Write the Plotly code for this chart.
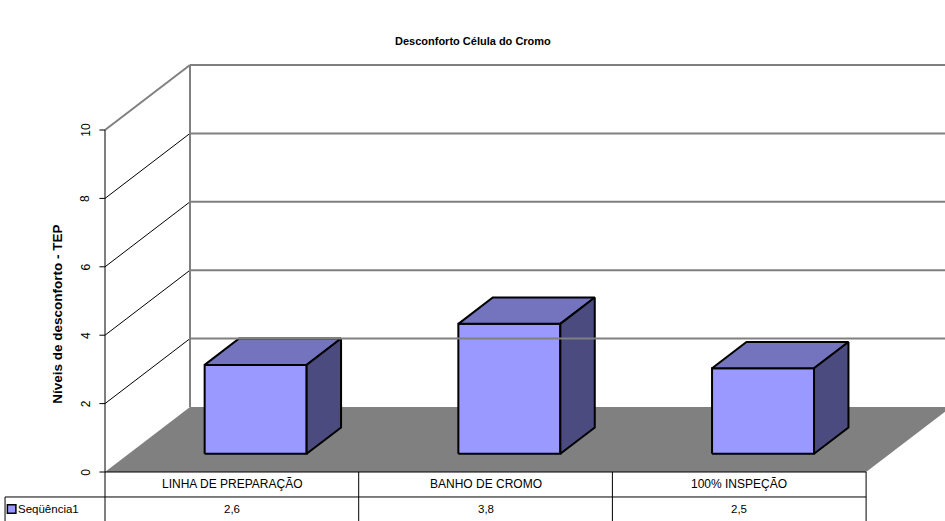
import plotly.graph_objects as go

# Data
categories = ["LINHA DE PREPARAÇÃO", "BANHO DE CROMO", "100% INSPEÇÃO"]
series_name = "Seqüência1"
values = [2.6, 3.8, 2.5]
value_labels = ["2,6", "3,8", "2,5"]
y_ticks = [0, 2, 4, 6, 8, 10]
y_max = 10

title = "Desconforto Célula do Cromo"
y_title = "Níveis de desconforto - TEP"

# Oblique projection of the 3D box: depth (0..1) shifts points right/up
DX = 0.335   # horizontal shift per unit depth (category units)
DY = 1.9     # vertical shift per unit depth (value units)
BAR_HALF = 0.201
D_FRONT, D_BACK = 0.28, 0.685

FRONT_FACE = "#9999FF"
TOP_FACE = "#7373BE"
SIDE_FACE = "#4B4B80"
FLOOR = "#808080"
WALL_LINE = "#808080"

n = len(categories)


def proj(x, v, d):
    return x + d * DX, v + d * DY


def poly(pts):
    xs = [p[0] for p in pts] + [pts[0][0]]
    ys = [p[1] for p in pts] + [pts[0][1]]
    return xs, ys


fig = go.Figure()
shapes = []


def line(p, q, color="black", width=1):
    shapes.append(dict(type="line", xref="x", yref="y", x0=p[0], y0=p[1],
                       x1=q[0], y1=q[1], line=dict(color=color, width=width),
                       layer="above"))


# Floor
fx, fy = poly([proj(0, 0, 0), proj(n, 0, 0), proj(n, 0, 1), proj(0, 0, 1)])
fig.add_trace(go.Scatter(x=fx, y=fy, fill="toself", fillcolor=FLOOR, mode="lines",
                         line=dict(width=0, color=FLOOR), hoverinfo="skip",
                         showlegend=False))

# Walls and gridlines
far_right = n + 0.6
for t in y_ticks[1:]:
    if t == y_max:
        line(proj(0, t, 0), proj(0, t, 1), WALL_LINE, 2)
        line(proj(0, t, 1), proj(far_right, t, 1), WALL_LINE, 2)
    else:
        line(proj(0, t, 0), proj(0, t, 1), "black", 1)
        line(proj(0, t, 1), proj(far_right, t, 1), WALL_LINE, 2)
line(proj(0, 0, 1), proj(0, y_max, 1), WALL_LINE, 2)

# Bars
for i, v in enumerate(values):
    cx = i + 0.5
    l, r = cx - BAR_HALF, cx + BAR_HALF
    faces = [
        ([proj(l, 0, D_FRONT), proj(r, 0, D_FRONT), proj(r, v, D_FRONT), proj(l, v, D_FRONT)], FRONT_FACE),
        ([proj(l, v, D_FRONT), proj(r, v, D_FRONT), proj(r, v, D_BACK), proj(l, v, D_BACK)], TOP_FACE),
        ([proj(r, 0, D_FRONT), proj(r, 0, D_BACK), proj(r, v, D_BACK), proj(r, v, D_FRONT)], SIDE_FACE),
    ]
    for pts, col in faces:
        xs, ys = poly(pts)
        fig.add_trace(go.Scatter(x=xs, y=ys, fill="toself", fillcolor=col, mode="lines",
                                 line=dict(color="black", width=2), hoverinfo="skip",
                                 showlegend=False))

# Value axis
line((0, 0), (0, y_max), "black", 1)
tick_len = 0.022
for t in y_ticks:
    line((-tick_len, t), (0, t), "black", 1)

annotations = []
for t in y_ticks:
    annotations.append(dict(x=-0.076, y=t, xref="x", yref="y", text=str(t), showarrow=False,
                            textangle=-90, font=dict(size=12, color="black")))
annotations.append(dict(x=-0.185, y=4.6, xref="x", yref="y", text="<b>%s</b>" % y_title,
                        showarrow=False, textangle=-90, font=dict(size=13.5, color="black")))

# Data table below the floor
row_h = 0.73
legend_left = -0.394
table_bottom = -1.45
line((0, 0), (n, 0), "black", 1)
line((legend_left, -row_h), (n, -row_h), "black", 1)
for k in range(n + 1):
    line((k, 0), (k, table_bottom), "black", 1)
line((legend_left, -row_h), (legend_left, table_bottom), "black", 1)

for i, (c, lab) in enumerate(zip(categories, value_labels)):
    annotations.append(dict(x=i + 0.5, y=-row_h / 2, xref="x", yref="y", text=c,
                            showarrow=False, font=dict(size=12, color="black")))
    annotations.append(dict(x=i + 0.5, y=-row_h * 1.48, xref="x", yref="y", text=lab,
                            showarrow=False, font=dict(size=11.5, color="black")))

fig.add_trace(go.Scatter(x=[-0.368], y=[-row_h * 1.48], mode="markers",
                         marker=dict(symbol="square", size=8.5, color=FRONT_FACE,
                                     line=dict(color="black", width=1.5)),
                         hoverinfo="skip", showlegend=False))
annotations.append(dict(x=-0.349, y=-row_h * 1.48, xref="x", yref="y", text=series_name,
                        xanchor="left", showarrow=False, font=dict(size=11.5, color="black")))

annotations.append(dict(x=0.5, y=1 - 33 / 521, xref="paper", yref="paper",
                        text="<b>%s</b>" % title, showarrow=False,
                        font=dict(size=11, color="black")))

# Plot frame: front plane origin sits 105 px from left, 472 px from top
PX_PER_CAT = 253.7
PX_PER_UNIT = 34.2
W, H = 945, 521
x_range = [(0 - 105) / PX_PER_CAT, (W - 105) / PX_PER_CAT]
y_range = [(472 - H) / PX_PER_UNIT, 472 / PX_PER_UNIT]

fig.update_layout(
    width=W, height=H,
    margin=dict(l=0, r=0, t=0, b=0),
    paper_bgcolor="white", plot_bgcolor="white",
    font=dict(family="Liberation Sans, Arial, sans-serif", size=11, color="black"),
    xaxis=dict(range=x_range, visible=False, fixedrange=True),
    yaxis=dict(range=y_range, visible=False, fixedrange=True),
    shapes=shapes,
    annotations=annotations,
    showlegend=False,
)

fig.write_html("out.html", config={"displayModeBar": False})
